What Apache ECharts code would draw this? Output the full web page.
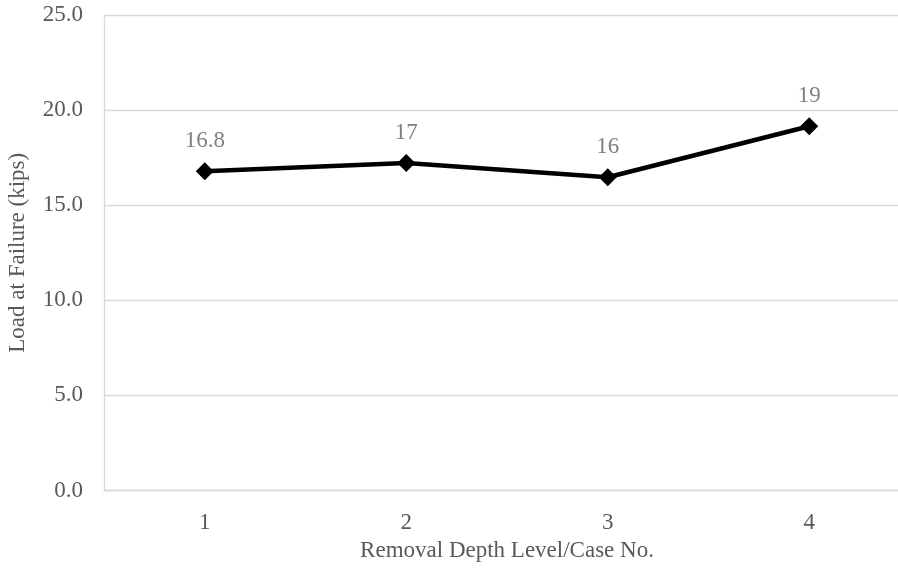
<!DOCTYPE html>
<html>
<head>
<meta charset="utf-8">
<script src="https://cdn.jsdelivr.net/npm/echarts@6/dist/echarts.min.js"></script>
<style>
html,body{margin:0;padding:0;background:#fff;}
#chart{width:898px;height:573px;}
</style>
</head>
<body>
<div id="chart"></div>
<script>
const categories = ['1', '2', '3', '4'];
const loadValues = [16.79, 17.22, 16.47, 19.15];
const pointLabels = ['16.8', '17', '16', '19'];
const yTicks = { min: 0, max: 25, interval: 5 };

const FONT = '"Liberation Serif", "Times New Roman", serif';
const chart = echarts.init(document.getElementById('chart'), null, { renderer: 'canvas' });
chart.setOption({
  animation: false,
  backgroundColor: '#ffffff',
  grid: { left: 104, top: 15, width: 806, height: 475.5, containLabel: false, outerBoundsMode: 'none' },
  xAxis: {
    type: 'category',
    data: categories,
    boundaryGap: true,
    axisLine: { show: true, lineStyle: { color: '#d9d9d9', width: 1.3 } },
    axisTick: { show: false },
    axisLabel: { color: '#595959', fontFamily: FONT, fontSize: 23, margin: 21 },
    name: 'Removal Depth Level/Case No.',
    nameLocation: 'middle',
    nameGap: 46,
    nameTextStyle: { color: '#595959', fontFamily: FONT, fontSize: 23 }
  },
  yAxis: {
    type: 'value',
    min: yTicks.min,
    max: yTicks.max,
    interval: yTicks.interval,
    axisLine: { show: true, lineStyle: { color: '#d9d9d9', width: 1.3 } },
    axisTick: { show: false },
    splitLine: { show: true, lineStyle: { color: '#d9d9d9', width: 1.3 } },
    axisLabel: {
      color: '#595959', fontFamily: FONT, fontSize: 23, margin: 21,
      formatter: v => v.toFixed(1)
    },
    name: 'Load at Failure (kips)',
    nameLocation: 'middle',
    nameGap: 75,
    nameRotate: 90,
    nameTextStyle: { color: '#595959', fontFamily: FONT, fontSize: 23 }
  },
  series: [{
    type: 'line',
    data: loadValues,
    symbol: 'diamond',
    symbolSize: 18,
    lineStyle: { color: '#000000', width: 4.5 },
    itemStyle: { color: '#000000' },
    label: {
      show: true,
      position: 'top',
      distance: 10,
      color: '#808080',
      fontFamily: FONT,
      fontSize: 23,
      formatter: p => pointLabels[p.dataIndex]
    }
  }]
});
</script>
</body>
</html>
